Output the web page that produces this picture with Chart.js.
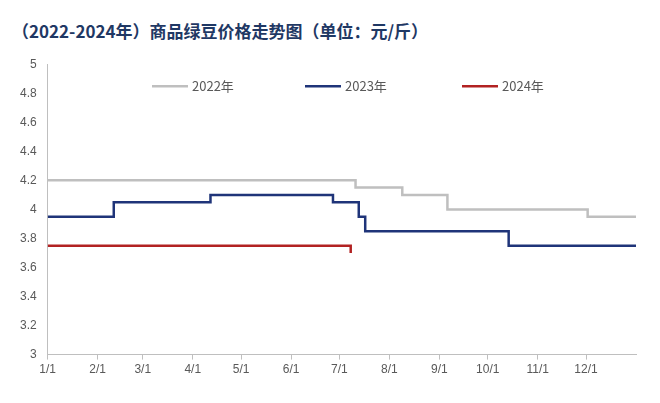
<!DOCTYPE html>
<html><head><meta charset="utf-8">
<script src="https://cdn.jsdelivr.net/npm/chart.js@4"></script>
<style>body{margin:0;background:#fff;}#t{position:absolute;left:12px;top:18px;font:bold 17px "Noto Sans CJK SC";color:#1f3864;}#w{position:absolute;left:0;top:54px;width:650px;height:326px;}</style>
</head><body>
<div id="t">（2022-2024年）商品绿豆价格走势图（单位：元/斤）</div>
<div id="w"><canvas id="c"></canvas></div>
<script>
const monthLabels=['1/1','2/1','3/1','4/1','5/1','6/1','7/1','8/1','9/1','10/1','11/1','12/1'];
const monthDays=[0,31,59,90,120,151,181,212,243,273,304,334];
const d2022=[0,191,220,248,335,365];
const v2022=[4.2,4.15,4.1,4.0,3.95,3.95];
const d2023=[0,41,101,177,193,197,286,365];
const v2023=[3.95,4.05,4.1,4.05,3.95,3.85,3.75,3.75];
const d2024=[0,187,188];
const v2024=[3.75,3.75,3.7];
const mk=(d,v)=>d.map((x,i)=>({x,y:v[i]}));
const legendPlugin={id:'lg',afterDraw(c){const ctx=c.ctx,a=c.chartArea;const xs=[152,305,462];
c.data.datasets.forEach((ds,i)=>{const x=xs[i],y=a.top+22;ctx.save();ctx.strokeStyle=ds.borderColor;ctx.lineWidth=2.5;
ctx.beginPath();ctx.moveTo(x,y);ctx.lineTo(x+36,y);ctx.stroke();ctx.fillStyle='#595959';ctx.font='13px "Noto Sans CJK SC"';ctx.textBaseline='middle';ctx.fillText(ds.label,x+40,y);ctx.restore();});}};
new Chart(document.getElementById('c'),{type:'scatter',
data:{datasets:[
{label:'2022年',data:mk(d2022,v2022),borderColor:'#bfbfbf',backgroundColor:'#bfbfbf'},
{label:'2023年',data:mk(d2023,v2023),borderColor:'#1f3479',backgroundColor:'#1f3479'},
{label:'2024年',data:mk(d2024,v2024),borderColor:'#b22222',backgroundColor:'#b22222'}
].map(o=>Object.assign(o,{showLine:true,stepped:'before',borderWidth:2.5,pointRadius:0}))},
plugins:[legendPlugin],
options:{animation:false,responsive:true,maintainAspectRatio:false,
layout:{padding:{right:14,top:4,left:17}},
plugins:{tooltip:{enabled:false},legend:{display:false}},
scales:{
x:{type:'linear',min:0,max:365,afterBuildTicks:a=>{a.ticks=monthDays.map(v=>({value:v}));},
ticks:{autoSkip:false,maxRotation:0,color:'#595959',font:{size:12},callback:(v)=>monthLabels[monthDays.indexOf(v)]},
grid:{display:true,drawOnChartArea:false,color:'#bfbfbf',tickLength:5},border:{color:'#bfbfbf'}},
y:{min:3,max:5,ticks:{stepSize:0.2,color:'#595959',font:{size:12},callback:v=>+v.toFixed(1)},
grid:{display:false},border:{color:'#bfbfbf'}}
}}});
</script></body></html>
